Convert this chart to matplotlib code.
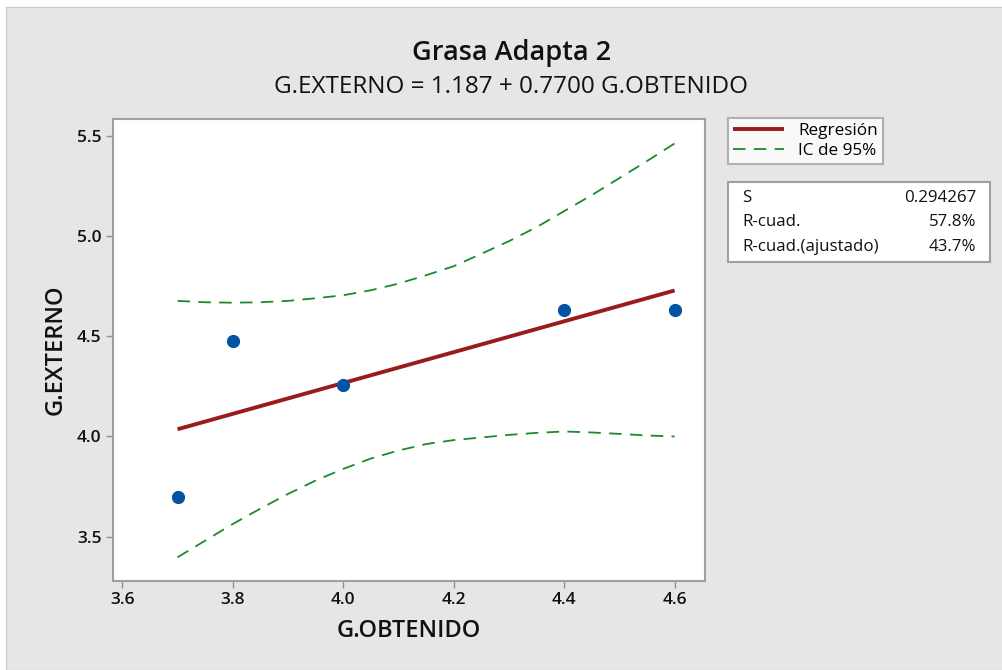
import matplotlib
matplotlib.use('Agg')
import matplotlib.pyplot as plt
from matplotlib.patches import Rectangle

plt.rcParams['font.family'] = ['Open Sans', 'DejaVu Sans']
plt.rcParams['lines.scale_dashes'] = False

# datos observados
g_obtenido = [3.7, 3.8, 4.0, 4.4, 4.6]
g_externo = [3.70, 4.477, 4.258, 4.633, 4.633]

# recta de regresion (extremos)
fit_x = [3.7, 4.6]
fit_y = [4.036, 4.729]

# bandas IC 95%
ic_x = [3.70, 3.75, 3.80, 3.85, 3.90, 3.95, 4.00, 4.05, 4.10, 4.15,
        4.20, 4.25, 4.30, 4.35, 4.40, 4.45, 4.50, 4.55, 4.60]
ic_sup = [4.677, 4.670, 4.668, 4.670, 4.677, 4.690, 4.705, 4.730, 4.763, 4.805,
          4.850, 4.912, 4.975, 5.045, 5.125, 5.205, 5.290, 5.375, 5.463]
ic_inf = [3.397, 3.480, 3.563, 3.640, 3.713, 3.780, 3.838, 3.890, 3.930, 3.962,
          3.982, 3.995, 4.008, 4.018, 4.025, 4.020, 4.013, 4.005, 4.000]

stat_names = ['S', 'R-cuad.', 'R-cuad.(ajustado)']
stat_values = ['0.294267', '57.8%', '43.7%']

W, H = 1002, 670
fig = plt.figure(figsize=(W / 100, H / 100), dpi=100)
fig.patch.set_facecolor('white')
fig.patches.append(Rectangle((6 / W, 0), 1, 1 - 7 / H, transform=fig.transFigure,
                             facecolor='#e6e6e6', edgecolor='#c8c8c8', lw=0.8, zorder=-10))

ax = fig.add_axes([112.7 / W, 1 - 580.5 / H, (705 - 112.7) / W, (580.5 - 119) / H])
ax.set_facecolor('white')

red = '#9a1b1b'
green = '#1a8a2a'
blue = '#0353a4'

l1, = ax.plot(fit_x, fit_y, color=red, lw=2.8, solid_capstyle='butt', label='Regresión', zorder=3)
l2, = ax.plot(ic_x, ic_sup, color=green, lw=1.3, dashes=(9, 6), label='IC de 95%', zorder=2)
ax.plot(ic_x, ic_inf, color=green, lw=1.3, dashes=(9, 6), zorder=2)
ax.plot(g_obtenido, g_externo, 'o', color=blue, ms=8.5, mec=blue, zorder=4)

ax.set_xlim(3.5826, 4.655)
ax.set_ylim(3.281, 5.585)
ax.set_xticks([3.6, 3.8, 4.0, 4.2, 4.4, 4.6])
ax.set_yticks([3.5, 4.0, 4.5, 5.0, 5.5])
ax.xaxis.set_major_formatter(matplotlib.ticker.FormatStrFormatter('%.1f'))
ax.yaxis.set_major_formatter(matplotlib.ticker.FormatStrFormatter('%.1f'))
ax.tick_params(direction='out', length=5, width=1, color='#909090', labelsize=12.5,
               labelcolor='#111111', pad=3)
for lab in ax.get_xticklabels() + ax.get_yticklabels():
    lab.set_fontweight('semibold')
for s in ax.spines.values():
    s.set_color('#a0a0a0')
    s.set_linewidth(1.5)

ax.set_xlabel('G.OBTENIDO', fontsize=17, color='#111111', labelpad=8, fontweight='semibold')
ax.set_ylabel('G.EXTERNO', fontsize=17, color='#111111', labelpad=7, fontweight='semibold')

fig.text(512 / W, 1 - 53 / H, 'Grasa Adapta 2', ha='center', va='center',
         fontsize=19.5, fontweight='semibold', color='#111111')
fig.text(511 / W, 1 - 87 / H, 'G.EXTERNO = 1.187 + 0.7700 G.OBTENIDO', ha='center',
         va='center', fontsize=17.5, color='#111111')

leg = fig.legend(handles=[l1, l2], loc='upper left',
                 bbox_to_anchor=(728 / W, 1 - 118 / H), frameon=True, fancybox=False,
                 edgecolor='#a0a0a0', fontsize=12.3, handlelength=3.0, borderaxespad=0,
                 borderpad=0.3, labelspacing=0.2, handletextpad=0.8)
leg.get_frame().set_linewidth(1.5)

# cuadro de estadisticos
bx0, bx1, by0, by1 = 728, 990, 182, 262
fig.patches.append(Rectangle((bx0 / W, 1 - by1 / H), (bx1 - bx0) / W, (by1 - by0) / H,
                             transform=fig.transFigure, facecolor='white',
                             edgecolor='#a0a0a0', lw=1.5))
for i, (n, v) in enumerate(zip(stat_names, stat_values)):
    yy = 1 - (198 + i * 24.5) / H
    fig.text(742 / W, yy, n, ha='left', va='center', fontsize=12.2, color='#111111')
    fig.text(976 / W, yy, v, ha='right', va='center', fontsize=12.2, color='#111111')

fig.savefig('out.png', dpi=100, facecolor=fig.get_facecolor())
